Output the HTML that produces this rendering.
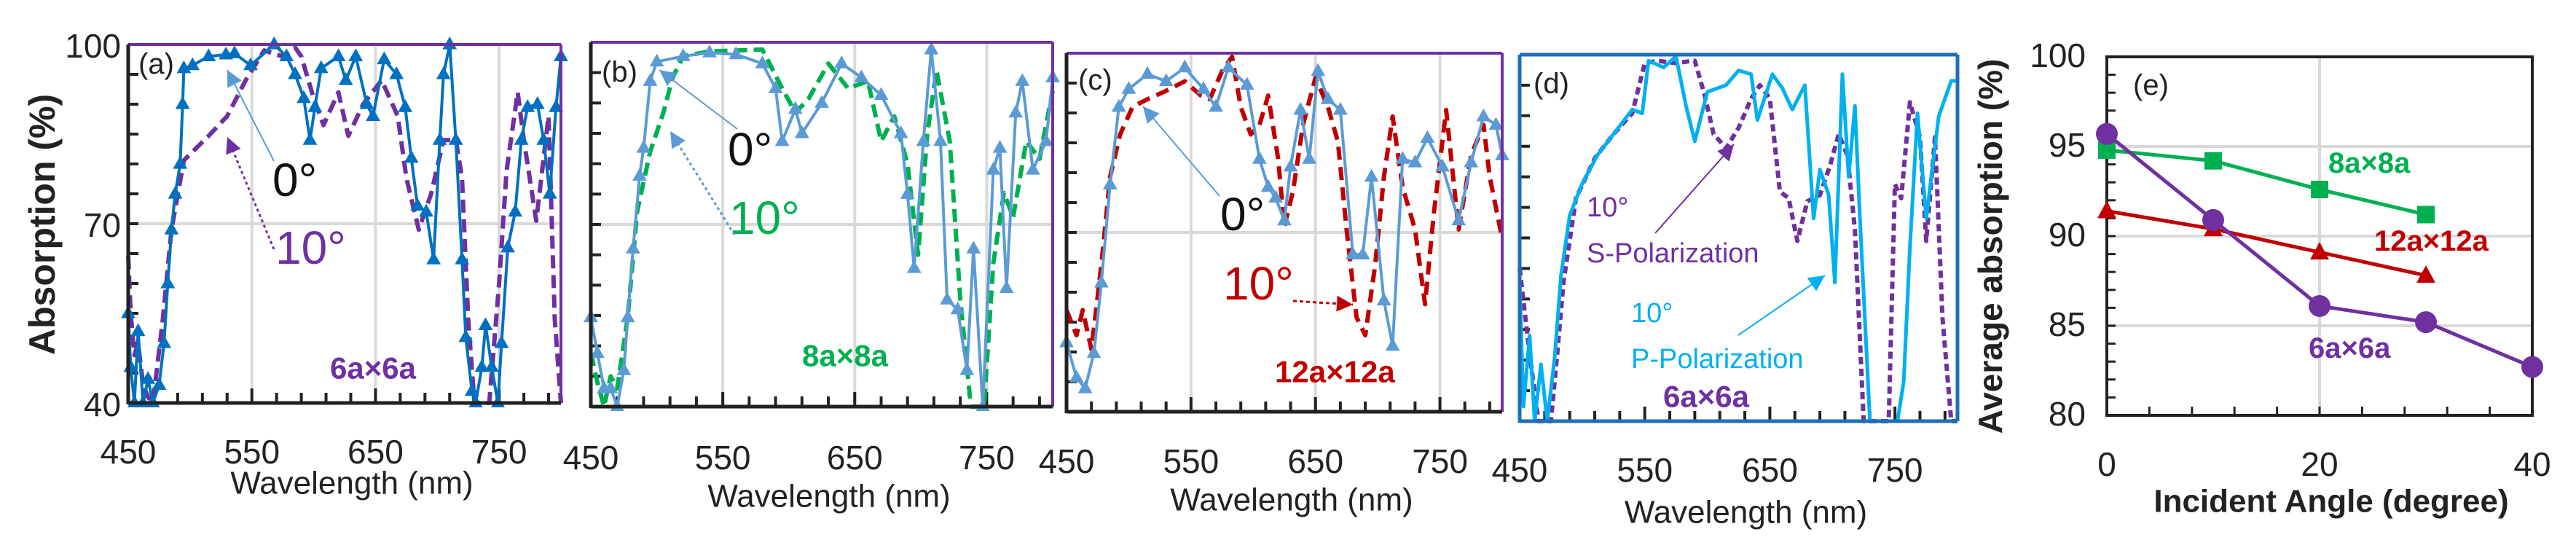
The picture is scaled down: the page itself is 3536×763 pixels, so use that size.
<!DOCTYPE html>
<html><head><meta charset="utf-8"><style>
html,body{margin:0;padding:0;background:#fff;}
svg{display:block;font-family:"Liberation Sans",sans-serif;}
</style></head><body>
<svg id="fig" width="3536" height="763" viewBox="0 0 3536 763">
</svg>
<script>
// ---------- data ----------
const aWl0=[450,452,455,458,462,466,470,475,479,482,485,488,492,494,495,502,515,529,536,549,568,578,585,592,597,601,606,620,626,634,643,648,657,667,674,679,684,691,697,702,705,710,715,720,723,728,731,736,739,744,749,752,757,763,768,773,781,786,791,796,800];
const aAbs0=[55,46,40,52,40,44,40,43,50,60,69,75,80,90,96,96.5,98,98.3,98.5,96.5,100,98,95,91,84,89.5,96,98,94,98,90,88,97.5,95,89.5,81,73,72,64,84,95,100,84,64,51,42,40,46,53,46,40,50,66,72,84,89.5,90,84,75,89.5,98];
const aWl10=[450,452,455,458,462,466,470,478,485,495,515,530,545,560,575,585,590,600,608,620,628,640,655,668,675,685,695,705,715,720,725,730,742,750,756,765,770,780,790,795,800];
const aAbs10=[64.6,55,48,50,43,41,40,54,69,80.6,84.7,88,94,99,98,99.5,98,91,86.5,92,84.7,90,94,88,77.6,69,75,84,84,77.6,54,40,40,60,78.8,92,84,70.5,88,54,40];

const bWl0=[450,455,460,465,470,475,478,482,487,490,495,500,520,540,560,580,590,595,605,610,625,640,655,670,685,690,695,702,708,715,720,728,735,740,747,755,760,765,772,777,785,795,800];
const bAbs0=[54.7,48.8,43,43,40,46,54.7,66,78,82.6,93.6,96.8,97.7,98.3,98,96.5,92.4,83.7,89,85,90,96.5,94.2,91.3,85,75,62.8,83.7,98.8,83.7,57.6,56,46,66,40,79,82.6,59.5,88.4,93.6,79,83.7,94.2];
const bWl10=[450,455,460,465,470,478,485,495,505,512,520,540,580,595,605,615,630,645,660,670,680,690,698,705,712,722,730,738,748,755,763,770,780,790,800];
const bAbs10=[48.8,44,40,45,43,54.7,72,82,88.4,94.2,97.7,98.5,98.8,92.4,88.4,90.7,96.5,92.4,93.6,83.7,87.8,80,65,85,95.3,83.7,57.6,40,40,63.6,75.2,71.2,83.7,80.8,92];

const cWl0=[450,458,465,472,478,485,492,500,515,530,545,560,570,580,595,605,612,618,625,630,638,645,652,660,670,680,688,695,705,712,720,730,740,752,765,775,785,795,800];
const cAbs0=[51.6,45.7,43.9,49.8,61.6,78,91,94,96.5,95.3,97.6,94,91,97.6,94.7,82.3,77.6,75.8,72,81,90.5,82.3,97,92.3,90.5,66.3,66.3,79.3,58.6,51,82.3,81.7,85.8,81,72,81.7,89.4,88,82.9];
const cWl10=[450,458,463,470,478,485,493,503,515,528,545,558,565,575,583,590,598,605,612,620,625,632,640,650,660,668,675,683,690,698,705,712,720,730,738,745,755,765,775,785,790,800];
const cAbs10=[57,52.8,57,50.4,64.6,79.3,86.4,91,92.3,93.5,95.3,92.9,92.3,97,99.4,91,86.4,88,92.9,82.3,71,77,88,95.9,91,85.2,70.5,55.8,52.8,64.6,79.3,89.4,77.6,70.5,58,73,90.5,70.5,82.9,88,79.3,69];

const dWlP=[450,453,458,462,467,472,478,483,490,500,512,525,540,548,553,565,575,583,590,600,615,625,635,640,652,660,668,678,685,690,697,702,708,713,718,722,730,745,752,757,762,768,775,785,795,800];
const dAbsP=[62.7,42.4,54,40,49.3,40,50.5,63.8,73.7,78.9,83.5,87,91,90.4,99,97.9,99.7,91.6,85.8,93.9,95,97.4,96.8,89.3,96.8,94.5,91,95,73.2,81.2,77.1,62.7,96.8,80,91.6,73.2,40,40,40,46.5,68.5,90.4,73.2,89.9,95.7,95.7];
const dWlS=[450,458,465,475,480,485,495,510,525,540,550,560,575,585,590,598,605,615,625,635,642,650,658,665,672,680,690,698,705,712,718,725,745,750,755,762,770,775,782,788,795,800];
const dAbsS=[65,51,40,40,51,62.7,76.5,83,87,90.4,98.6,99,98.6,98.9,99,93.3,87,84.7,88,92.8,95,92.8,77.6,76.5,69.5,76,77,81.8,87,83.5,71.3,40,40,78.8,76.5,92.2,86.5,69.5,86.5,56.9,40,40];

const eAngles6=[0,10,20,30,40];
const eAvg6=[95.7,90.9,86.1,85.2,82.7];
const eAngles8=[0,10,20,30];
const eAvg8=[94.8,94.2,92.6,91.2];
const eAngles12=[0,10,20,30];
const eAvg12=[91.4,90.4,89.1,87.8];
const eXTicks=[0,20,40];
const eYTicks=[80,85,90,95,100];
const wlTicks=[450,550,650,750];
const absTicks=[40,70,100];

// ---------- helpers ----------
const NS='http://www.w3.org/2000/svg';
const svg=document.getElementById('fig');
function el(tag,attrs,parent){const e=document.createElementNS(NS,tag);for(const k in attrs)e.setAttribute(k,attrs[k]);(parent||svg).appendChild(e);return e;}
function txt(s,x,y,size,fill,anchor,weight,parent){const t=el('text',{x:x,y:y,'font-size':size,fill:fill,'text-anchor':anchor||'start','dominant-baseline':'central','font-weight':weight||'normal'},parent);t.textContent=s;return t;}

function makePanel(id,L,R,T,B,xmin,xmax,ymin,ymax){
  const g=el('g',{});
  
  
  const cp=el('clipPath',{id:'clip'+id});
  el('rect',{x:L-10,y:T-12,width:R-L+20,height:B-T+18},cp);
  return {g,L,R,T,B,id,
    x:v=>L+(v-xmin)/(xmax-xmin)*(R-L),
    y:v=>B-(v-ymin)/(ymax-ymin)*(B-T)};
}
function tri(x,y,s,color,parent){
  return el('path',{d:`M${x},${y-s} L${x+s*0.9},${y+s*0.6} L${x-s*0.9},${y+s*0.6} Z`,fill:color},parent);
}
function series(p,xs,ys,color,width,dash,mk,name){
  const g=el('g',{'clip-path':'url(#clip'+p.id+')'},p.g);
  
  
  const pts=xs.map((v,i)=>p.x(v).toFixed(1)+','+p.y(ys[i]).toFixed(1)).join(' ');
  const pl=el('polyline',{points:pts,fill:'none',stroke:color,'stroke-width':width,'stroke-linejoin':'round'},g);
  if(dash)pl.setAttribute('stroke-dasharray',dash);
  
  
  if(mk){
    xs.forEach((v,i)=>{
      const m=tri(p.x(v),p.y(ys[i]),11,color,g);
      
      
    });
  }
}
function wlAxes(p,grid,hGrid,tickY,titleY){
  const g=p.g;
  if(grid){wlTicks.slice(1).forEach(v=>{el('line',{x1:p.x(v),x2:p.x(v),y1:p.T,y2:p.B,stroke:'#d9d9d9','stroke-width':4},g);});}
  if(hGrid){el('line',{x1:p.L,x2:p.R,y1:p.y(70),y2:p.y(70),stroke:'#d9d9d9','stroke-width':4},g);}
  for(let v=40;v<=100;v+=5){const yy=p.y(v);el('line',{x1:p.L,x2:p.L+14,y1:yy,y2:yy,stroke:'#222','stroke-width':4},g);}
  for(let v=470;v<800;v+=20){const xx=p.x(v);const maj=(v-450)%100===0;el('line',{x1:xx,x2:xx,y1:p.B,y2:p.B-(maj?20:14),stroke:'#222','stroke-width':4},g);}
  wlTicks.forEach(v=>{const t=txt(String(v),p.x(v),tickY,46,'#222','middle',null,g);});
  const tt=txt('Wavelength (nm)',(p.L+p.R)/2+10,titleY,44,'#222','middle',null,g);
  
}
function frame(p,topC,rightC,leftC,botC,w){
  const g=p.g;
  el('line',{x1:p.L,x2:p.R,y1:p.T,y2:p.T,stroke:topC,'stroke-width':w},g);
  el('line',{x1:p.R,x2:p.R,y1:p.T,y2:p.B,stroke:rightC,'stroke-width':w},g);
  el('line',{x1:p.L,x2:p.L,y1:p.T,y2:p.B+2,stroke:leftC,'stroke-width':5},g);
  el('line',{x1:p.L,x2:p.R,y1:p.B,y2:p.B,stroke:botC,'stroke-width':5},g);
}
function arrow(g,x1,y1,x2,y2,color,w,dash,name){
  const ln=el('line',{x1,y1,x2,y2,stroke:color,'stroke-width':w},g);
  if(dash)ln.setAttribute('stroke-dasharray',dash);
  
  
  const a=Math.atan2(y2-y1,x2-x1),s=22;
  const p1=[x2-s*Math.cos(a)+s*0.5*Math.sin(a),y2-s*Math.sin(a)-s*0.5*Math.cos(a)];
  const p2=[x2-s*Math.cos(a)-s*0.5*Math.sin(a),y2-s*Math.sin(a)+s*0.5*Math.cos(a)];
  el('path',{d:`M${x2},${y2} L${p1[0]},${p1[1]} L${p2[0]},${p2[1]} Z`,fill:color},g);
}

const BLUE='#0070c0',LBLUE='#5b9bd5',PURP='#7030a0',GREEN='#00b050',RED='#c00000',CYAN='#00b0f0';

// ---------- panel a ----------
const pa=makePanel('a',176,770,61,553,450,800,40,100);
wlAxes(pa,true,true,620,663);
series(pa,aWl10,aAbs10,PURP,6,'18 9',false,'series-a-10deg');
series(pa,aWl0,aAbs0,BLUE,4,null,true,'series-a-0deg');
frame(pa,PURP,PURP,'#222','#222',4);
absTicks.forEach(v=>{const t=txt(String(v),166,pa.y(v)+2,46,'#222','end',null,pa.g);});
{const t=el('text',{x:0,y:0,'font-size':50,'font-weight':'bold',fill:'#222','text-anchor':'middle','dominant-baseline':'central',transform:'translate(58,308) rotate(-90)'},pa.g);t.textContent='Absorption (%)';}
txt('(a)',190,88,40,'#222','start',null,pa.g);
txt('0°',374,247,64,'#111','start',null,pa.g);
txt('10°',378,340,64,PURP,'start',null,pa.g);
txt('6a×6a',453,505,42,PURP,'start','bold',pa.g);
arrow(pa.g,376,221,312,96,LBLUE,2,null,'arrow-0deg');
arrow(pa.g,376,342,312,188,PURP,3,'4 4','arrow-10deg');

// ---------- panel b ----------
const pb=makePanel('b',811,1445,58,558,450,800,40,100);
wlAxes(pb,true,true,628,681);
series(pb,bWl10,bAbs10,GREEN,6,'18 9',false,'series-b-10deg');
series(pb,bWl0,bAbs0,LBLUE,4,null,true,'series-b-0deg');
frame(pb,PURP,PURP,'#222','#222',4);
txt('(b)',826,99,40,'#222','start',null,pb.g);
txt('0°',999,205,64,'#111','start',null,pb.g);
txt('10°',1001,299,64,GREEN,'start',null,pb.g);
txt('8a×8a',1101,488,42,GREEN,'start','bold',pb.g);
arrow(pb.g,1012,177,905,96,LBLUE,2,null,'arrow-0deg');
arrow(pb.g,1008,322,920,180,LBLUE,3,'4 4','arrow-10deg');

// ---------- panel c ----------
const pc=makePanel('c',1464,2062,73,565,450,800,40,100);
wlAxes(pc,true,true,633,686);
series(pc,cWl10,cAbs10,RED,6,'18 10',false,'series-c-10deg');
series(pc,cWl0,cAbs0,LBLUE,4,null,true,'series-c-0deg');
frame(pc,PURP,PURP,'#222','#222',4);
txt('(c)',1480,110,40,'#222','start',null,pc.g);
txt('0°',1675,294,64,'#111','start',null,pc.g);
txt('10°',1679,389,64,RED,'start',null,pc.g);
txt('12a×12a',1750,510,42,RED,'start','bold',pc.g);
arrow(pc.g,1674,269,1569,146,LBLUE,2,null,'arrow-0deg');
arrow(pc.g,1775,413,1857,418,RED,3,'5 4','arrow-10deg');

// ---------- panel d ----------
const pd=makePanel('d',2086,2687,75,578,450,800,40,100);
wlAxes(pd,false,false,645,703);
series(pd,dWlS,dAbsS,PURP,6,'10 6',false,'series-d-s-pol');
series(pd,dWlP,dAbsP,CYAN,5,null,false,'series-d-p-pol');
frame(pd,'#1f6fb5','#1f6fb5','#1f6fb5','#1f6fb5',5);
txt('(d)',2105,115,40,'#222','start',null,pd.g);
txt('10°',2178,285,38,PURP,'start',null,pd.g);
txt('S-Polarization',2178,348,38,PURP,'start',null,pd.g);
txt('10°',2239,430,38,CYAN,'start',null,pd.g);
txt('P-Polarization',2239,493,38,CYAN,'start',null,pd.g);
txt('6a×6a',2283,544,42,PURP,'start','bold',pd.g);
arrow(pd.g,2272,320,2380,198,PURP,2,null,'arrow-s-pol');
arrow(pd.g,2386,460,2505,378,CYAN,2,null,'arrow-p-pol');

// ---------- panel e ----------
const pe=makePanel('e',2892,3476,78,570,0,40,80,100);
[20].forEach(v=>el('line',{x1:pe.x(v),x2:pe.x(v),y1:pe.T,y2:pe.B,stroke:'#d9d9d9','stroke-width':4},pe.g));
[85,90,95].forEach(v=>el('line',{x1:pe.L,x2:pe.R,y1:pe.y(v),y2:pe.y(v),stroke:'#d9d9d9','stroke-width':4},pe.g));
for(let v=81;v<100;v++){const yy=pe.y(v);el('line',{x1:pe.L,x2:pe.L+12,y1:yy,y2:yy,stroke:'#222','stroke-width':3},pe.g);}
for(let v=4;v<40;v+=4){const xx=pe.x(v);el('line',{x1:xx,x2:xx,y1:pe.B,y2:pe.B-12,stroke:'#222','stroke-width':3},pe.g);}
el('rect',{x:pe.L,y:pe.T,width:pe.R-pe.L,height:pe.B-pe.T,fill:'none',stroke:'#222','stroke-width':4},pe.g);
eYTicks.forEach(v=>{const t=txt(String(v),2863,pe.y(v)-2,46,'#222','end',null,pe.g);});
eXTicks.forEach(v=>{const t=txt(String(v),pe.x(v),637,46,'#222','middle',null,pe.g);});
{const t=txt('Incident Angle (degree)',3200,688,44,'#222','middle','bold',pe.g);}
{const t=el('text',{x:0,y:0,'font-size':46,'font-weight':'bold',fill:'#222','text-anchor':'middle','dominant-baseline':'central',transform:'translate(2732,338) rotate(-90)'},pe.g);t.textContent='Average absorption (%)';}
function eSeries(xs,ys,color,shape,name){
  const g=el('g',{},pe.g);
  
  
  el('polyline',{points:xs.map((v,i)=>pe.x(v)+','+pe.y(ys[i])).join(' '),fill:'none',stroke:color,'stroke-width':5},g);
  xs.forEach((v,i)=>{
    const cx=pe.x(v),cy=pe.y(ys[i]);let m;
    if(shape==='circle')m=el('circle',{cx,cy,r:15,fill:color},g);
    else if(shape==='square')m=el('rect',{x:cx-12,y:cy-12,width:24,height:24,fill:color},g);
    else m=el('path',{d:`M${cx},${cy-14} L${cx+13},${cy+10} L${cx-13},${cy+10} Z`,fill:color},g);
    
    
  });
}
eSeries(eAngles12,eAvg12,RED,'tri','series-e-12a');
eSeries(eAngles8,eAvg8,GREEN,'square','series-e-8a');
eSeries(eAngles6,eAvg6,PURP,'circle','series-e-6a');
txt('(e)',2928,117,40,'#222','start',null,pe.g);
txt('8a×8a',3196,224,40,GREEN,'start','bold',pe.g);
txt('12a×12a',3259,331,40,RED,'start','bold',pe.g);
txt('6a×6a',3169,478,40,PURP,'start','bold',pe.g);
</script>
</body></html>
